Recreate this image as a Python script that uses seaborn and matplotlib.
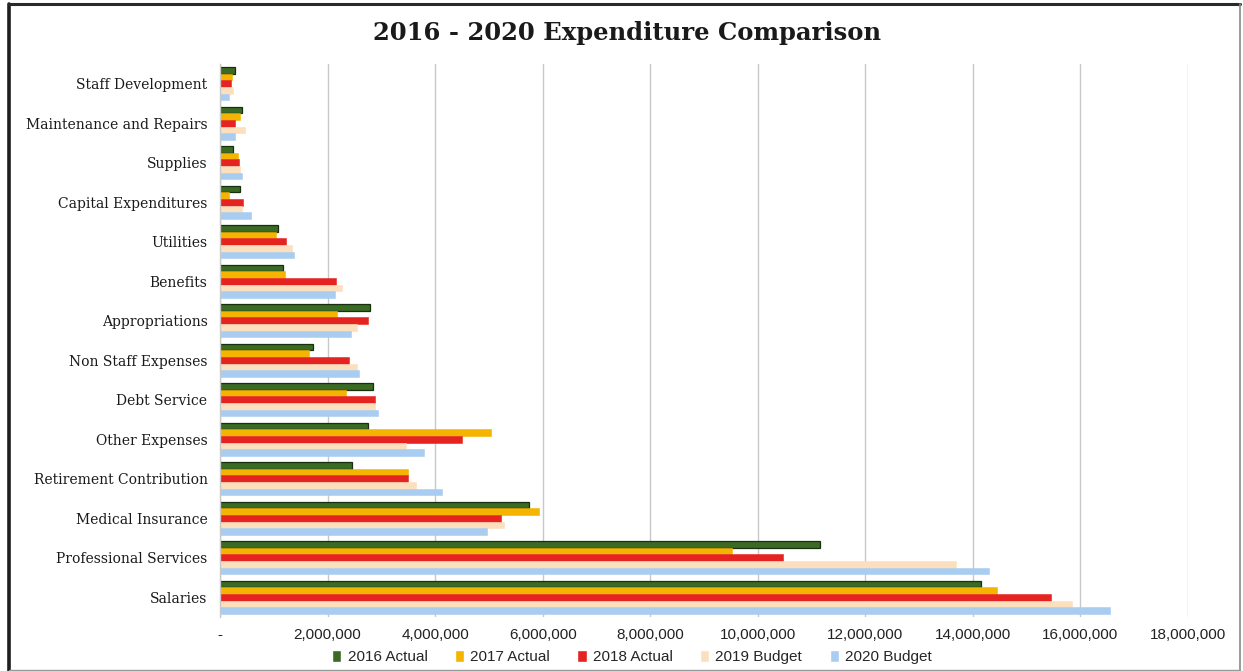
import matplotlib
matplotlib.use("Agg")
import matplotlib.pyplot as plt
from matplotlib.lines import Line2D
import seaborn as sns
import pandas as pd

categories = [
    "Staff Development", "Maintenance and Repairs", "Supplies",
    "Capital Expenditures", "Utilities", "Benefits", "Appropriations",
    "Non Staff Expenses", "Debt Service", "Other Expenses",
    "Retirement Contribution", "Medical Insurance",
    "Professional Services", "Salaries",
]
series = ["2016 Actual", "2017 Actual", "2018 Actual", "2019 Budget", "2020 Budget"]

actual_2016 = [285000, 410000, 250000, 380000, 1070000, 1180000, 2780000,
               1730000, 2840000, 2760000, 2450000, 5740000, 11150000, 14150000]
actual_2017 = [220000, 370000, 330000, 160000, 1050000, 1210000, 2170000,
               1650000, 2340000, 5030000, 3500000, 5930000, 9520000, 14450000]
actual_2018 = [200000, 280000, 360000, 420000, 1230000, 2150000, 2760000,
               2400000, 2890000, 4500000, 3500000, 5220000, 10470000, 15450000]
budget_2019 = [240000, 460000, 370000, 410000, 1330000, 2260000, 2540000,
               2540000, 2880000, 3450000, 3650000, 5280000, 13680000, 15850000]
budget_2020 = [160000, 280000, 400000, 570000, 1370000, 2140000, 2430000,
               2580000, 2930000, 3800000, 4130000, 4960000, 14300000, 16550000]

x_ticks = [0, 2000000, 4000000, 6000000, 8000000, 10000000, 12000000,
           14000000, 16000000, 18000000]
x_tick_labels = ["-", "2,000,000", "4,000,000", "6,000,000", "8,000,000",
                 "10,000,000", "12,000,000", "14,000,000", "16,000,000",
                 "18,000,000"]

colors = ["#3b6a25", "#f4b400", "#e52421", "#fcdfbd", "#a8cdf0"]

values = [actual_2016, actual_2017, actual_2018, budget_2019, budget_2020]
df = pd.DataFrame(
    [(c, s, v) for s, vals in zip(series, values) for c, v in zip(categories, vals)],
    columns=["Category", "Series", "Amount"],
)

sns.set_theme(style="white")
plt.rcParams["font.family"] = ["Liberation Sans Narrow", "Liberation Sans", "DejaVu Sans"]

fig = plt.figure(figsize=(12.43, 6.71), dpi=100)
ax = fig.add_axes([220 / 1243, 1 - 617 / 671, (1188 - 220) / 1243, (617 - 64) / 671])

sns.barplot(
    data=df, y="Category", x="Amount", hue="Series",
    order=categories, hue_order=series, palette=colors,
    orient="h", width=0.84, saturation=1, ax=ax, legend=True,
)

# dark outline on the 2016 bars, closed seams on the rest
for i, cont in enumerate(ax.containers):
    for bar in cont:
        if i == 0:
            bar.set_edgecolor("#17300d")
            bar.set_linewidth(0.9)
        else:
            bar.set_edgecolor(bar.get_facecolor())
            bar.set_linewidth(0.4)

ax.set_xlim(0, 18000000)
ax.set_ylim(len(categories) - 0.5, -0.5)
ax.set_xticks(x_ticks)
ax.set_xticklabels(x_tick_labels, fontsize=11, color="#222222")
ax.tick_params(axis="x", length=0, pad=8)
ax.tick_params(axis="y", length=0, pad=9)
for lbl in ax.get_yticklabels():
    lbl.set_fontfamily(["DejaVu Serif"])
    lbl.set_fontsize(10)
    lbl.set_color("#1a1a1a")
ax.set_xlabel("")
ax.set_ylabel("")
ax.grid(axis="x", color="#c8c8c8", linewidth=1)
ax.set_axisbelow(True)
for side in ["top", "right", "bottom"]:
    ax.spines[side].set_visible(False)
ax.spines["left"].set_color("#c8c8c8")
ax.spines["left"].set_linewidth(1)

handles, labels = ax.get_legend_handles_labels()
ax.get_legend().remove()
fig.legend(
    handles, labels, loc="center", bbox_to_anchor=(632 / 1243, 1 - 657 / 671),
    ncol=5, frameon=False, fontsize=11, handlelength=0.6, handleheight=0.8,
    handletextpad=0.4, columnspacing=1.8,
)

fig.text(627 / 1243, 1 - 33 / 671, "2016 - 2020 Expenditure Comparison",
         ha="center", va="center", fontsize=17.5, fontweight="bold",
         family=["DejaVu Serif"], color="#1a1a1a")

# frame around the whole chart: heavy top/left, light right/bottom
W, H = 1243, 671
fig.lines.extend([
    Line2D([9 / W, 9 / W], [0, 1 - 4 / H], transform=fig.transFigure,
           color="#1e1e1e", linewidth=2.6),
    Line2D([9 / W, 1240 / W], [1 - 4 / H, 1 - 4 / H], transform=fig.transFigure,
           color="#2a2a2a", linewidth=2.2),
    Line2D([1240 / W, 1240 / W], [0, 1 - 4 / H], transform=fig.transFigure,
           color="#8a8a8a", linewidth=1.2),
    Line2D([9 / W, 1240 / W], [1.5 / H, 1.5 / H], transform=fig.transFigure,
           color="#9a9a9a", linewidth=1.0),
])

fig.savefig("out.png", dpi=100)
